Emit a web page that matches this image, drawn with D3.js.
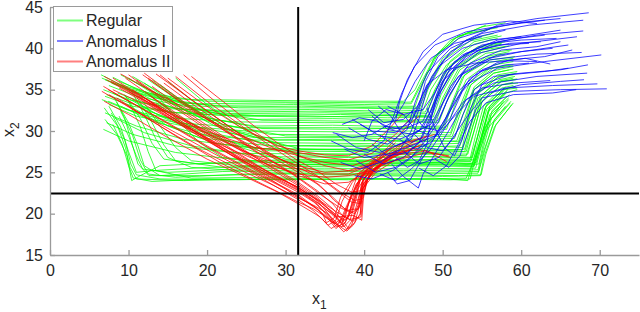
<!DOCTYPE html>
<html>
<head>
<meta charset="utf-8">
<script src="https://cdn.jsdelivr.net/npm/d3@7"></script>
<style>
    body { margin: 0; background: #fff; }
    svg text { font-family: "Liberation Sans", Arial, Helvetica, sans-serif; fill: #262626; }
    .axis path, .axis line { stroke: #9a9a9a; stroke-width: 1.3; }
    .axis text { font-size: 16px; fill: #262626; }
</style>
</head>
<body>
<div id="chart"></div>
<script>
//data
var xTicks = [0, 10, 20, 30, 40, 50, 60, 70];
var yTicks = [15, 20, 25, 30, 35, 40, 45];
var classNames = ["Regular", "Anomalus I", "Anomalus II"];
var classColors = ["#00ff00", "#0000ff", "#ff0000"];
var thresholdX1 = 31.6;
var thresholdX2 = 22.45;

var regular = [
    [[6.5,36.8],[9,35.6],[13,34.5],[18,33.8],[28,33.7],[38,33.6],[45,33.6],[46.5,35],[48,38],[51,41],[55,42.6],[58,43.1]],
    [[7,36.2],[10,35],[14,33.9],[19,33.3],[30,33.4],[40,33.2],[46,33.3],[47.5,36],[49.5,39.5],[53,41.8],[57,42.5]],
    [[7.5,35.5],[11,34.2],[16,33.2],[21,32.9],[32,33],[42,32.8],[47,32.9],[48,35.5],[50,38.8],[53,41],[56.5,41.8]],
    [[6.8,35],[10,33.8],[15,32.7],[22,32.5],[33,32.6],[43,32.4],[47.5,32.5],[48.5,35],[50.5,38],[54,40.5],[57,41.2]],
    [[8,36.5],[12,34.6],[17,33],[23,32.1],[35,32.2],[44,32],[48,32.1],[49,34.8],[51,38],[54.5,40.2],[58,40.8]],
    [[7.2,34.4],[11,33.1],[16,32.2],[24,31.8],[34,31.7],[44,31.9],[48.5,31.7],[49.5,34.5],[51.5,37.5],[55,39.5],[58,40.2]],
    [[9,36.8],[13,34.8],[18,32.8],[25,31.4],[36,31.5],[45,31.3],[49,31.4],[50,34],[52,37.5],[55,39.8],[57.5,40.5]],
    [[6.6,33.8],[10,32.5],[15,31.6],[24,31.1],[35,31],[45,31.1],[49.5,31],[50.5,33.5],[52.5,37],[55.5,39],[58.5,39.6]],
    [[7.8,35.8],[11,34.6],[15,33.6],[21,33.1],[31,33.2],[41,33],[46.5,33],[47.5,35.8],[49,39],[52,41.5],[56,42.3]],
    [[9.5,35.2],[13,33.5],[18,32.3],[26,31.9],[37,32],[45,31.8],[48.2,31.9],[49.3,34.5],[51.2,38],[54.5,40],[57.5,40.6]],
    [[8.6,34.6],[12,33.4],[17,32.6],[24,32.3],[34,32.4],[44,32.2],[47.8,32.3],[49,35],[51,38.5],[54,40.8],[57.5,41.5]],
    [[7,34.2],[10.5,33],[15,32.3],[22,31.9],[33,31.8],[43,31.6],[48.8,31.7],[49.8,34.4],[51.8,37.8],[55,39.8],[58.5,40.3]],
    [[8.5,35.8],[13,33.8],[18,31.9],[26,30.6],[36,30.7],[46,30.5],[50,30.6],[51,33],[52.5,36.5],[55.5,38.8],[58,39.3]],
    [[10,36.4],[14,34],[19,31.8],[27,30.3],[38,30.2],[46,30.4],[50.5,30.2],[51.5,33],[53,36.2],[56,38.3],[59,38.8]],
    [[7.5,33.2],[11,31.8],[17,30.6],[25,30],[37,29.9],[46,30],[51,29.8],[52,32.5],[53.5,36],[56.5,38],[59,38.4]],
    [[11,36],[15,33.6],[20,31.2],[28,29.6],[39,29.5],[47,29.7],[51,29.5],[52,32],[53.5,35.5],[56,37.6],[58.5,38]],
    [[8,34.6],[12,32.6],[18,30.6],[26,29.2],[37,29.2],[47,29],[51.5,29.1],[52.5,31.8],[54,35.3],[56.5,37.3],[59,37.8]],
    [[12,35.8],[16,33.2],[21,30.6],[29,28.9],[40,28.8],[48,28.9],[52,28.7],[53,31.5],[54,35],[56.5,37],[58.5,37.4]],
    [[9.5,34.2],[13,32.3],[19,30],[27,28.6],[38,28.5],[48,28.4],[52,28.5],[53,31],[54.2,34.5],[57,36.8],[59.5,37.2]],
    [[13,36.2],[17,33.4],[22,30.4],[30,28.2],[41,28.1],[48,28.2],[52.5,28],[53.2,31],[54.5,34.5],[57,36.5],[59,36.8]],
    [[7,32.2],[11,30.6],[17,29],[26,27.9],[37,27.8],[47,27.9],[52.5,27.7],[53.5,30.5],[54.5,34],[57,36],[59,36.4]],
    [[10.5,33.8],[14,31.8],[20,29.4],[28,27.6],[39,27.5],[48,27.4],[53,27.5],[53.8,30.5],[55,34],[57.5,36],[59.5,36.3]],
    [[14,35.6],[18,32.8],[23,29.8],[31,27.3],[42,27.1],[49,27.2],[53,27],[54,30],[55,33.5],[57.5,35.6],[59,35.9]],
    [[8.2,31.6],[12,29.8],[18,28.2],[27,26.9],[38,26.8],[48,26.9],[53.5,26.7],[54.2,29.5],[55.2,33],[57.5,35.2],[59,35.5]],
    [[12,34.8],[16,32],[22,29],[30,26.6],[40,26.5],[49,26.5],[53.5,26.4],[54.5,29.5],[55.5,33],[57.8,35],[59.5,35.2]],
    [[9,33],[13,31.2],[19,29.6],[26,28.9],[36,29],[46,28.7],[51.8,28.8],[52.8,31.5],[54,35],[56.5,37],[59,37.5]],
    [[11.5,32.8],[15,30.6],[21,28.5],[29,27.7],[40,27.8],[49,27.6],[52.8,27.8],[53.6,30.6],[54.8,34.2],[57.2,36.2],[59.2,36.6]],
    [[6.8,30.2],[10,28.8],[16,27.4],[25,26.4],[36,26.3],[46,26.4],[53.6,26.3],[54.4,29.2],[55.4,32.8],[57.6,35],[59.3,35.4]],
    [[13.5,33.4],[17,31],[23,28.4],[31,26],[41,25.8],[50,25.9],[54,25.8],[54.8,28.8],[55.8,32.3],[58,34.5]],
    [[7,31.4],[8.5,29.6],[9.8,27],[10.4,24],[11.5,24.6],[14,25.8],[20,26.1],[30,26.2],[42,26.1],[50,26.2],[54,26],[54.8,29],[55.8,32.5],[58,34.6],[59.5,35]],
    [[7.5,33],[9,30.5],[10,27.5],[11,25],[13,25.2],[20,25.6],[32,25.7],[44,25.8],[54,25.7],[55,28.5],[56,32],[58.2,34.2]],
    [[8.5,33.5],[10,31],[11.2,28.2],[12,25.8],[14,24.6],[22,25.1],[33,25.3],[45,25.2],[54.5,25.3],[55.2,28],[56.2,31.5],[58.4,33.8]],
    [[9,32.4],[10.5,29.5],[11.5,26.5],[12.5,24.8],[16,24.4],[25,24.8],[36,24.9],[46,24.8],[54.5,24.9],[55.2,27.5],[56.5,31],[58.6,33.4]],
    [[10,33.6],[11.5,30.5],[12.5,27.5],[13.5,25.2],[18,24.3],[28,24.4],[40,24.6],[50,24.5],[54.8,24.6],[55.3,27],[56.6,30.5],[58.8,33.2]],
    [[7.8,32.2],[9.5,29],[10.3,26],[11,24.7],[14,24.2],[24,24.1],[35,24.3],[47,24.2],[53,24.3],[54,26.5],[55.5,30],[58,33]],
    [[9.5,34.4],[11.5,31.5],[13,28.5],[14.5,26.6],[19,26],[29,26.5],[41,26.4],[51,26.6],[54.2,26.5],[55,29.5],[56,33],[58.3,35]],
    [[11,34.2],[13,31],[14.5,28.3],[16,26.4],[22,25.6],[33,25.9],[44,26],[52,25.9],[54.6,26],[55.3,29],[56.3,32.5],[58.5,34.4]],
    [[8,30.8],[9.2,28.4],[10,25.8],[10.6,24.3],[13,23.9],[20,24.2],[30,24.1],[40,24.2],[51,24.1],[53.5,24.2],[54.2,27],[55.6,30.8],[57.8,33.6]],
    [[6.6,36.4],[9.5,35.3],[14,34.1],[20,33.6],[31,33.5],[42,33.4],[46,33.5],[47,35.4],[48.8,38.6],[51.5,41.2],[55.5,42.8]],
    [[8.8,36],[12.5,34.6],[17,33.4],[24,32.8],[35,32.8],[44,32.7],[47.2,32.7],[48.2,35.2],[50.2,38.6],[53.5,40.9],[57,41.6]],
    [[10.5,36.6],[14.5,34.4],[19.5,32.4],[27,31.3],[38,31.2],[46,31.2],[49.2,31.2],[50.2,34],[52.2,37.4],[55.5,39.4],[58.8,39.8]],
    [[7.4,33.6],[11,32.2],[16,31],[25,30.4],[36,30.4],[46,30.3],[50.2,30.4],[51.2,33.2],[52.8,36.8],[56,38.6],[59.2,39]],
    [[12.5,36.2],[16.5,33.6],[22,30.8],[30,29.4],[40,29.3],[47,29.4],[51.2,29.3],[52.2,32],[53.6,35.6],[56.4,37.6],[59,38]],
    [[9.8,33.2],[13.5,31.2],[19,29.2],[28,28.2],[39,28.3],[48,28.1],[52.2,28.2],[53.2,31.2],[54.4,34.6],[57.2,36.6],[59.4,37]],
    [[15,36],[19,33],[24,29.8],[32,27.8],[42,27.6],[49,27.7],[52.8,27.5],[53.8,30.4],[54.9,34],[57.4,36],[59.3,36.2]],
    [[7.2,31],[10.5,29.6],[16,28.2],[24,27.3],[35,27.2],[46,27.3],[53.2,27.2],[54,30],[55,33.6],[57.6,35.6],[59.6,35.8]],
    [[16,36.4],[20,33.2],[25,30],[32,27],[42,26.8],[50,26.9],[53.8,26.8],[54.6,29.8],[55.6,33.2],[58,35.3]],
    [[8.8,31.8],[10,29.4],[11,27],[11.8,25.4],[15,25],[24,25.4],[35,25.5],[46,25.4],[54.2,25.5],[55,28.4],[56.2,32],[58.4,34]],
    [[10.4,34.8],[12,32],[13.5,29],[15,26.8],[18,25.6],[27,25],[38,25.1],[48,25],[54.6,25.1],[55.4,27.8],[56.6,31.4],[58.7,33.6]],
    [[8.2,34],[9.5,31.6],[10.4,28.6],[11.2,26],[12.6,24.6],[19,24.6],[30,24.8],[42,24.7],[52,24.6],[54.9,24.7],[55.5,27.2],[56.8,30.8],[59,33.4]],
    [[6.9,32.8],[8.6,30.6],[9.6,28],[10.2,25.6],[11,24.2],[17,24],[27,24.2],[38,24.1],[49,24.3],[53.2,24],[54,26.8],[55.4,30.4],[57.6,33.4]],
    [[11.8,33.6],[14,30.6],[16,28],[18,26.4],[24,25.8],[34,26],[45,26.1],[53,26],[54.3,26.2],[55,29.2],[56,32.8],[58.2,34.8]],
    [[13.2,34.8],[16,31.6],[19,28.6],[22,26.8],[28,26.2],[38,26.3],[48,26.2],[53.8,26.1],[54.6,29],[55.6,32.6],[57.8,34.9]]
];

var anomalusI = [
    [[42,29.5],[44,28.2],[46,29],[47,31.5],[48,35],[50,38.5],[53,41],[57,42.8],[62,43.6],[68.6,44.3]],
    [[38,30.4],[40.5,29],[43,28.4],[45.5,30.2],[46.5,33.5],[48,37],[51,40],[55,41.8],[61,42.8],[67.9,43.4]],
    [[40,27.2],[42.5,26],[45,26.8],[47,28.6],[48.5,32],[50,36],[53,39],[57,40.8],[62,41.6],[67.9,42.1]],
    [[44,31.2],[44.5,33.5],[45.5,36.2],[47.5,39.6],[50,41.7],[54,42.8],[58.6,43.3],[62,43]],
    [[36.5,29.6],[39,28],[42,27.4],[45,28.6],[47.5,30.4],[49,33.5],[51,37],[54.5,39.4],[60,40.6],[67.1,41.4]],
    [[41,31.8],[43,30.2],[46,29.6],[48.5,30.8],[50,33.4],[52,36.6],[56,38.6],[62,39.3],[67.7,39.5]],
    [[39,26.4],[41.5,25],[44,25.6],[46.5,27.2],[49,29.4],[51,32.5],[53,35.6],[57,37.6],[63,38.4],[70.2,39.2]],
    [[43.5,26],[45,24.5],[46.9,23.1],[47.5,24.8],[49,27.2],[51,30.4],[53,33.8],[56.5,35.8],[62,36.6],[68.4,37]],
    [[37.5,27.8],[40,26.8],[43,27.2],[46,28.2],[49.5,29.6],[51.5,31.8],[54,34.2],[58,35.2],[64,35.5],[69.7,35.7]],
    [[45,27.6],[47,26],[49.5,26.8],[51,28.8],[53,31.6],[55,34],[59,34.8],[65,35],[70.9,35.1]],
    [[40.5,32.6],[42.5,31],[45,31.4],[46.8,33],[48,35.6],[50.5,37.4],[54,38.2],[58,38.5],[62,38.4]],
    [[42,24.8],[44,24],[46,25.4],[48.5,27.8],[50.5,30.6],[52.5,33.4],[55,35.2],[59,35.8],[63.7,36.1]],
    [[38.5,31.4],[41,30],[44,29.8],[46.2,31.6],[47.5,34.5],[49.5,37.8],[52.5,40],[56,41],[60,41.4]],
    [[44.5,29],[46.5,27.8],[48.5,28.6],[50,30.5],[51.5,33.5],[53.5,36.4],[57,38.3],[60.5,38.8],[63.7,38.1]],
    [[36,29.8],[38.5,29.2],[41,29.6],[43.5,31],[45,33.2],[46.5,36],[48.5,38.8],[51.5,40.6],[55,41.4]],
    [[46,32.4],[47.5,30.5],[49.5,30],[51,31.6],[52.5,34.8],[55,37.4],[58.5,38.6],[63,39],[66.5,39.8]],
    [[41,28.4],[43,27],[45.5,27.4],[48,29.4],[49.5,32.2],[51,35.4],[53.5,38.2],[57.5,39.8],[62,40.2],[65,40.8]],
    [[39.5,30.8],[42,29.4],[44.5,29],[47,30],[48.5,32.4],[49.6,35.4],[51.5,38.4],[55,40.4],[59.5,41.2],[63,41.6]],
    [[43,33],[45,32],[47.5,32.6],[49,34.6],[50.5,37.4],[53,39.4],[57,40.4],[61,40.6]],
    [[47,25.5],[48.8,24.6],[50.5,25.8],[52,28.4],[53.5,31.2],[55.5,33.4],[59,34.4],[64,34.6],[67,35]],
    [[37,26.2],[39.5,25.4],[42,26.2],[44.5,27.6],[46,30],[47.2,33.2],[48.6,36.6],[51,39.6],[54.5,41.4],[58,42.2]],
    [[42.5,30.6],[45,30.2],[47.5,31.2],[48.6,33.6],[50,36.8],[52.5,39.2],[56,40.6],[60,41],[64.5,41.2]],
    [[48,32.8],[49,30.4],[50.2,28],[51.5,27],[52.5,29],[53.5,32.6],[55,35.6],[58.5,36.8],[63,37.2],[66,37.6]],
    [[35.8,28.8],[38,27.8],[40.5,27.4],[42.5,28.8],[43.6,31.4],[44.8,34.6],[46.4,37.8],[49,40.4],[53,42],[58,42.8],[63,43.4]],
    [[40,28.8],[41,31.2],[42.8,32.6],[45,32],[46.5,30.2],[48,29.6],[49.6,31.6],[51,34.6],[53,37.6],[57,39.2],[61.5,39.8],[66,40.4]],
    [[44,26.8],[45.5,25.6],[47,26.4],[48,28.4],[48.4,31],[49.2,34],[50.6,37],[53.5,39.6],[57,41],[61,41.6],[65,42.2]],
    [[38.8,24.6],[41,24.2],[43.6,25.2],[45.8,26.6],[47.6,28.6],[49.4,31],[50.8,34.2],[52.6,37],[56,38.8],[60,39.6],[64,40]],
    [[46.4,29.6],[48,28],[50,27.6],[51.6,29.4],[52.6,32],[54,35],[56.5,36.6],[60,37],[65,37.4],[68.5,38]],
    [[41.8,33],[43.4,31.8],[44.6,30],[46,28.6],[47.4,29.2],[48.6,31.8],[49.8,34.8],[51.6,37.8],[54.6,39.8],[58.5,40.6],[62.5,40.8]],
    [[43,25],[44.2,23.6],[45.8,24],[47,26],[48.6,28.6],[50.4,31.6],[52,34.8],[54.6,37.2],[58,38],[61,38.2]],
    [[37.2,30.8],[39.4,31.6],[41.6,31.2],[43.6,30.2],[45.8,30.8],[47,33],[47.8,36],[49.4,39],[52,41.2],[56,42.4],[60.5,43.2],[65,43.6]],
    [[49,26.6],[50.8,25.6],[52.2,27],[53.2,29.8],[54.2,32.6],[56,34.6],[60,35.6],[65,36],[68,36.2]]
];

var anomalusII = [
    [[6.8,35.4],[10,33.6],[15,31],[20,28.2],[25,25.6],[29,23.6],[31.6,22.3],[34,20.6],[36,19],[37.8,17.9],[38.6,18.6],[39.5,20],[39.8,23.5],[41.5,25.5],[44.5,27.8],[48,29]],
    [[8,36.4],[12,34],[17,31],[22,28],[27,25],[31.6,22.8],[34,21.2],[35.5,19.5],[36.5,18.4],[37.6,18.9],[38.6,21.5],[39.4,24.2],[41,26],[44,28.6]],
    [[7.5,34.4],[11,32.4],[16,29.8],[21,27.2],[26,24.8],[31.6,21.7],[33.5,20.4],[35,19],[35.8,18.2],[36.8,18.8],[37.8,21],[39.2,23.8],[40.5,25.4],[43,27.5]],
    [[10,36.8],[14,34],[19,30.8],[24,27.8],[29,24.9],[31.6,23.4],[34,21.8],[36.5,20.2],[38.2,19.3],[39.6,19.6],[39.9,22.5],[40.6,24.6],[43,26.8],[46,28.2]],
    [[9,35.6],[13,33.2],[18,30.2],[23,27.1],[28,24.2],[31.6,22],[33.8,20.8],[35,19.6],[36.2,18.8],[37.2,19.4],[38.4,22],[39.5,24.4],[42,26.4]],
    [[12,37],[16,34.2],[21,31],[26,27.7],[30,25.4],[31.6,24.4],[34,22.8],[36,21.2],[37.4,19.6],[38.6,19.1],[39.5,19.8],[39.8,23],[41,25],[44,27.2],[47.5,28.4]],
    [[6.9,33.6],[10,32],[15,29.2],[20,26.6],[25,24.4],[29,22.6],[31.6,21.2],[33.2,20.3],[34.4,19.6],[35.4,18.6],[36.4,19.2],[37.2,21.5],[38.5,23.8],[40,25.4],[42.5,27]],
    [[11,36.2],[15,33.6],[20,30.4],[25,27.4],[29.5,25],[31.6,23.8],[34,22.2],[36,20.6],[37.4,19],[38,18.2],[38.8,18.9],[39.6,21.6],[40.2,24],[42,25.8],[45,27.6]],
    [[14,36.8],[18,33.8],[23,30.4],[28,27],[31.6,25],[34,23.6],[36,22],[37.5,20.6],[38.8,20],[39.5,21],[39.8,24],[41.2,25.8],[44,27.4]],
    [[8.5,34],[12,31.8],[17,28.8],[22,26],[27,23.6],[31.6,21.4],[33.5,20.6],[34.8,19.8],[35.2,18.9],[36.2,19.5],[37,22],[38.4,24],[41,25.8]],
    [[13,35.4],[17,32.6],[22,29.4],[27,26.3],[31.6,23.6],[34,22],[35.6,20.4],[36.8,19.2],[37.4,18.4],[38.2,19.2],[39,21.8],[39.6,24.6],[41,26.2],[43.5,27.9]],
    [[16,36.6],[20,33.6],[25,30.2],[29,27.6],[31.6,26],[34,24.6],[36.5,22.8],[38.4,21.4],[39.6,21.2],[40,24.2],[42,26.2],[45,28.4],[49,29.6]],
    [[7.2,36.2],[11,34.2],[16,31.8],[21,29.6],[26,28],[31.6,27.4],[35,26.8],[38,26.5],[41,27.3],[44,29.6],[46,31.6]],
    [[9,36.9],[13,34.8],[18,32.4],[23,30],[28,28],[31.6,27],[35,26.2],[38.5,25.8],[41,26.6],[44.5,28.4],[48,29.4]],
    [[10.5,35],[14,32.8],[19,30.2],[24,27.8],[29,26],[31.6,25.4],[35,24.8],[38,24.8],[40.5,25.8],[43,27.2],[47,27.8],[51,26.8]],
    [[15,36.4],[19,33.6],[24,30.6],[29,28.2],[31.6,27.6],[35,27.1],[38,27],[41,28.2],[43.5,30.6],[45,32.2]],
    [[12.5,36.4],[17,33.2],[22,30.2],[27,27.4],[31.6,25.8],[35,25],[38.5,25.2],[41,26],[44,27.1],[48,27.6],[50.5,26.3]],
    [[8,35],[12,33.2],[17,30.6],[22,28.2],[27,26.2],[31.6,24.8],[35,24.4],[38,24.6],[40.4,25.1]],
    [[7.8,36],[11,34.3],[16,31.4],[21,28.5],[26,25.9],[30,24],[31.6,23],[34,21.4],[35.8,20],[37,18.9],[38,19.6],[39,22.4],[39.6,24.6],[41.8,26.4],[45,28.6]],
    [[10,34.8],[14,32.4],[19,29.4],[24,26.6],[28,24.4],[31.6,22.6],[33.6,21.4],[35.2,20],[36.6,18.6],[37.4,17.8],[38.4,18.6],[39.2,21],[39.7,23.8],[40.8,25.2]],
    [[11.5,34.4],[15,32],[20,29],[25,26.2],[29,24.2],[31.6,22.9],[34.5,21],[36.5,19.6],[38.6,19.8],[39.7,19.2],[39.9,21.8],[40.3,24],[42.2,25.8],[46,27.2]],
    [[17,36.8],[21,33.6],[25,30.6],[29,28],[31.6,26.4],[34,25.2],[36.4,23.6],[38.4,22.6],[39.7,22.8],[41,25],[43,27],[46.5,28.8]],
    [[6.6,34.8],[9.5,33.2],[14,30.6],[19,27.8],[24,25.4],[28.5,23.4],[31.6,21.9],[33.8,20.9],[35.4,20],[36.2,18.9],[37.2,18.4],[38,19.6],[38.8,22.8],[40,24.8],[43,26.4]],
    [[13.5,36.9],[18,33.8],[23,30.4],[27.5,27.6],[31.6,25.3],[34.4,23.4],[36.2,21.6],[37.8,20.4],[39.2,20.6],[39.8,23],[41.5,25],[44.5,26.8]],
    [[9.6,36.4],[13.5,33.8],[18.5,30.6],[23.5,27.6],[28.5,24.6],[31.6,23.1],[34.2,21.6],[36,20.2],[37.2,18.8],[37.8,18.1],[38.6,19.4],[39.4,22.4],[40,24.4],[42.8,26.4],[46.5,28]],
    [[7.4,35],[10.5,33.4],[15.5,30.6],[20.5,27.8],[25.5,25.2],[30,23],[31.6,22.1],[34.2,20.4],[35.6,19.2],[36.4,18.2],[37.2,18.8],[38,21.2],[39,23.6],[41,25.6]],
    [[11.8,36.8],[16,34],[21,30.8],[26,27.6],[30.5,25],[31.6,24.3],[34.6,22.2],[36.8,20.8],[38.3,20.1],[39.3,20.6],[39.7,23.2],[41.2,25.4],[44.2,27.6]],
    [[14.5,35.8],[18.5,33],[23.5,29.8],[28,27.2],[31.6,25.6],[35,24],[37,22.6],[38.8,21.6],[39.8,21.8],[40.6,24.6],[43,26.6],[47,28.2]],
    [[18,36.6],[22,33.6],[26,30.6],[29.5,28.2],[31.6,27],[35,25.8],[38,25.2],[40.5,26],[43,28],[45.5,30.6],[47,31.8]],
    [[8.8,35.2],[12.5,33.2],[17.5,30.2],[22.5,27.4],[27.5,25],[31.6,23.2],[33.8,21.8],[35.4,20.6],[36.8,19.6],[37.6,19.2],[38.4,20.2],[39.2,23],[40.5,24.9],[43.5,26.8]],
    [[6.9,36.6],[10.5,34.8],[15.5,32.2],[20.5,29.6],[25.5,27.2],[30,25.2],[31.6,24.6],[35,23.6],[38,23.8],[40.2,24.8],[43,26.2],[48,27.4],[50.8,27]],
    [[12.8,34.2],[16.5,31.6],[21.5,28.6],[26,26],[29.5,24.2],[31.6,23.2],[34,21.6],[35.6,19.8],[36.6,18.8],[37.6,19.6],[38.4,22.6],[39.2,24.8],[41.5,26.6]]
];

var width = 640,
    height = 312,
    margin = { left: 50, right: 1, top: 7, bottom: 57 };

var svg = d3.select("#chart")
    .append("svg")
    .attr("width", width)
    .attr("height", height);

var x = d3.scaleLinear()
    .domain([0, 75])
    .range([margin.left, width - margin.right]);

var y = d3.scaleLinear()
    .domain([15, 45])
    .range([height - margin.bottom, margin.top]);

svg.append("clipPath")
    .attr("id", "plotClip")
    .append("rect")
    .attr("x", x(0))
    .attr("y", y(45))
    .attr("width", x(75) - x(0))
    .attr("height", y(15) - y(45));

var line = d3.line()
    .x(function(d) { return x(d[0]); })
    .y(function(d) { return y(d[1]); });

var plot = svg.append("g").attr("clip-path", "url(#plotClip)");

var groups = [regular, anomalusI, anomalusII];
var drawOrder = [0, 2, 1];

drawOrder.forEach(function(k) {
    plot.append("g")
        .selectAll("path")
        .data(groups[k])
        .enter().append("path")
        .attr("d", line)
        .attr("fill", "none")
        .attr("stroke", classColors[k])
        .attr("stroke-width", 1)
        .attr("stroke-opacity", 0.75)
        .attr("stroke-linejoin", "round");
});

//threshold lines
plot.append("line")
    .attr("x1", x(thresholdX1)).attr("x2", x(thresholdX1))
    .attr("y1", y(15)).attr("y2", y(45))
    .attr("stroke", "#000").attr("stroke-width", 2);

plot.append("line")
    .attr("x1", x(0)).attr("x2", x(75))
    .attr("y1", y(thresholdX2)).attr("y2", y(thresholdX2))
    .attr("stroke", "#000").attr("stroke-width", 2);

//axes
svg.append("g")
    .attr("class", "axis")
    .attr("transform", "translate(0," + y(15) + ")")
    .call(d3.axisBottom(x).tickValues(xTicks).tickSizeInner(-5).tickSizeOuter(0).tickPadding(10));

svg.append("g")
    .attr("class", "axis")
    .attr("transform", "translate(" + x(0) + ",0)")
    .call(d3.axisLeft(y).tickValues(yTicks).tickSizeInner(-5).tickSizeOuter(0).tickPadding(7));

//axis labels
var xl = svg.append("text")
    .attr("x", 312)
    .attr("y", 304)
    .attr("font-size", 16);
xl.append("tspan").text("x");
xl.append("tspan").attr("font-size", 12).attr("dy", 5).text("1");

var yl = svg.append("text")
    .attr("transform", "translate(14,137) rotate(-90)")
    .attr("font-size", 16);
yl.append("tspan").text("x");
yl.append("tspan").attr("font-size", 12).attr("dy", 5).text("2");

//legend
var legend = svg.append("g");

legend.append("rect")
    .attr("x", 53.5).attr("y", 6.5)
    .attr("width", 119).attr("height", 65)
    .attr("fill", "#fff")
    .attr("stroke", "#9a9a9a");

classNames.forEach(function(name, i) {
    var cy = 20.5 + i * 20.5;
    legend.append("line")
        .attr("x1", 57).attr("x2", 83)
        .attr("y1", cy).attr("y2", cy)
        .attr("stroke", classColors[i])
        .attr("stroke-opacity", 0.5)
        .attr("stroke-width", 2);
    legend.append("text")
        .attr("x", 86)
        .attr("y", cy + 5.8)
        .attr("font-size", 16)
        .text(name);
});
</script>
</body>
</html>
